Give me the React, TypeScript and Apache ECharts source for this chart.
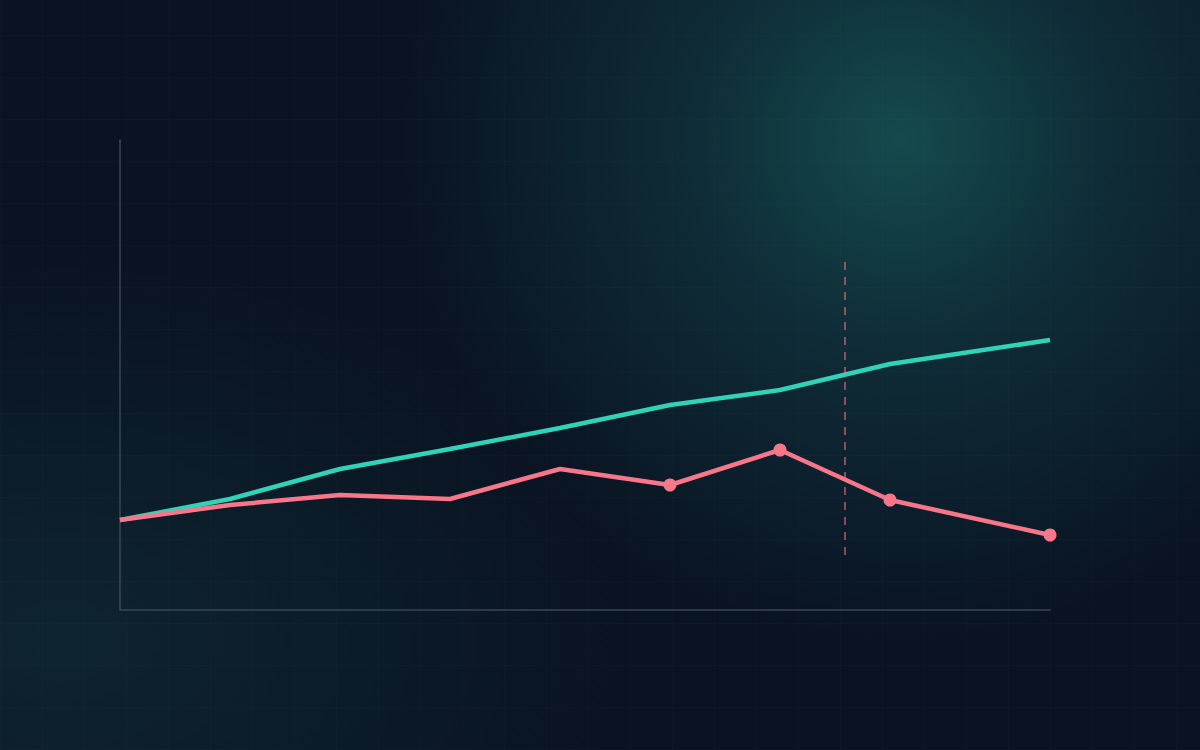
import React, { useEffect, useRef } from "react";
import * as echarts from "echarts";

// x positions (weeks), last point sits a bit further out
const xValues = [0, 11, 22, 33, 44, 55, 66, 77, 93];
const tealValues = [9, 11.1, 14.1, 16.1, 18.2, 20.5, 22, 24.6, 27];
const pinkValues = [9, 10.5, 11.5, 11.1, 14.1, 12.5, 16, 11, 7.5];
const pinkMarked = [false, false, false, false, false, true, true, true, true];
const cutoffX = 72.5;
const cutoffRange = [5.5, 35.1];

const TEAL = "#2fd3b8";
const PINK = "#f7768a";

export default function App() {
  const chartRef = useRef<HTMLDivElement>(null);

  useEffect(() => {
    if (!chartRef.current) return;
    const chart = echarts.init(chartRef.current, undefined, { renderer: "svg" });

    const option: echarts.EChartsOption = {
      animation: false,
      backgroundColor: "transparent",
      grid: { left: 120, right: 150, top: 140, bottom: 140 },
      xAxis: {
        type: "value",
        min: 0,
        max: 93,
        axisLine: { show: true, lineStyle: { color: "#3a4657", width: 1.5 } },
        axisTick: { show: false },
        axisLabel: { show: false },
        splitLine: { show: false },
      },
      yAxis: {
        type: "value",
        min: 0,
        max: 47,
        axisLine: { show: true, lineStyle: { color: "#3a4657", width: 1.5 } },
        axisTick: { show: false },
        axisLabel: { show: false },
        splitLine: { show: false },
      },
      series: [
        {
          name: "teal",
          type: "line",
          data: xValues.map((x, i) => [x, tealValues[i]]),
          showSymbol: false,
          lineStyle: { color: TEAL, width: 4.5 },
          itemStyle: { color: TEAL },
          z: 2,
        },
        {
          name: "pink",
          type: "line",
          symbol: "circle",
          symbolSize: 13,
          data: xValues.map((x, i) =>
            pinkMarked[i]
              ? { value: [x, pinkValues[i]] }
              : { value: [x, pinkValues[i]], symbol: "none" }
          ),
          lineStyle: { color: PINK, width: 4.5 },
          itemStyle: { color: PINK },
          z: 3,
          markLine: {
            silent: true,
            symbol: "none",
            label: { show: false },
            lineStyle: { color: "rgba(247,118,138,0.7)", width: 1.5, type: [8, 7] },
            data: [
              [
                { coord: [cutoffX, cutoffRange[0]] },
                { coord: [cutoffX, cutoffRange[1]] },
              ],
            ],
          },
        },
      ],
    };

    chart.setOption(option);
    return () => chart.dispose();
  }, []);

  return (
    <div
      style={{
        position: "fixed",
        left: 0,
        top: 0,
        width: 1200,
        height: 750,
        background:
          "radial-gradient(circle at 900px 140px, rgba(22,80,82,0.9) 0px, rgba(18,62,70,0.6) 200px, rgba(12,30,44,0) 500px)," +
          "radial-gradient(ellipse 560px 380px at 60px 640px, rgba(16,48,56,0.6) 0px, rgba(10,20,35,0) 100%)," +
          "#0a1322",
      }}
    >
      <div
        style={{
          position: "absolute",
          inset: 0,
          backgroundImage:
            "repeating-linear-gradient(90deg, rgba(255,255,255,0.01) 0px, rgba(255,255,255,0.01) 1px, transparent 1px, transparent 42px)," +
            "repeating-linear-gradient(0deg, rgba(255,255,255,0.01) 0px, rgba(255,255,255,0.01) 1px, transparent 1px, transparent 42px)",
        }}
      />
      <div ref={chartRef} style={{ position: "absolute", left: 0, top: 0, width: 1200, height: 750 }} />
    </div>
  );
}
